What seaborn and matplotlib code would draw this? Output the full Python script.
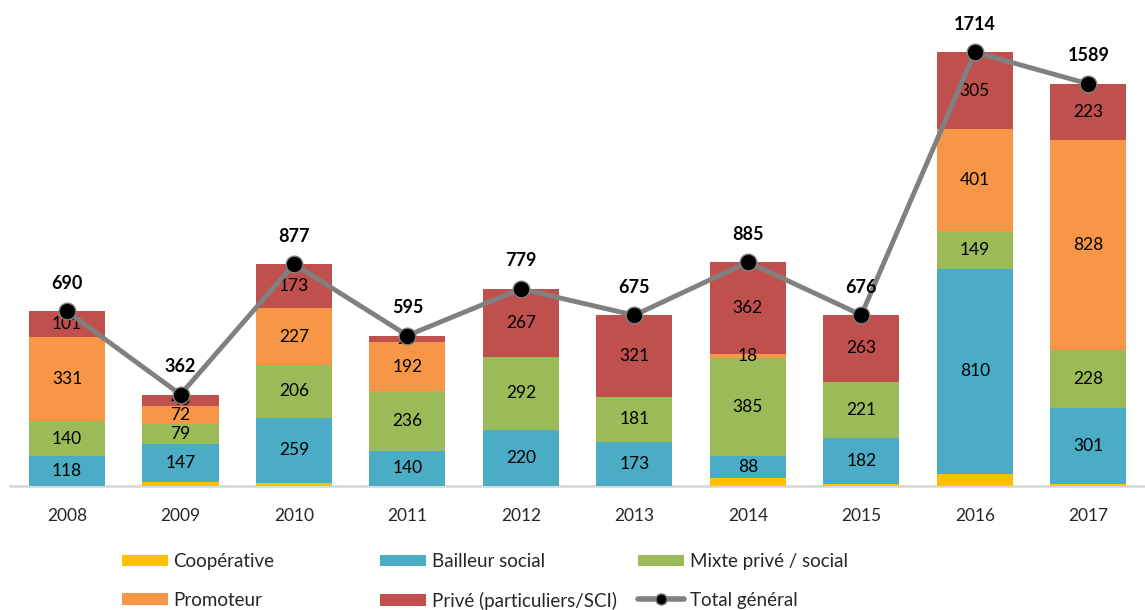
import numpy as np
import pandas as pd
import matplotlib
matplotlib.use("Agg")
import matplotlib.pyplot as plt
import seaborn as sns
from matplotlib.patches import Patch
from matplotlib.lines import Line2D

years = ["2008", "2009", "2010", "2011", "2012", "2013", "2014", "2015", "2016", "2017"]
cooperative = [0, 18, 12, 0, 0, 0, 32, 10, 49, 9]
bailleur = [118, 147, 259, 140, 220, 173, 88, 182, 810, 301]
mixte = [140, 79, 206, 236, 292, 181, 385, 221, 149, 228]
promoteur = [331, 72, 227, 192, 0, 0, 18, 0, 401, 828]
prive = [101, 46, 173, 27, 267, 321, 362, 263, 305, 223]
total = [690, 362, 877, 595, 779, 675, 885, 676, 1714, 1589]

series_names = ["Coopérative", "Bailleur social", "Mixte privé / social",
                "Promoteur", "Privé (particuliers/SCI)"]
series_vals = [cooperative, bailleur, mixte, promoteur, prive]
colors = ["#FFC000", "#4BACC6", "#9BBB59", "#F79646", "#C0504D"]
show_label = [False, True, True, True, True]

sns.set_theme(style="white")
plt.rcParams["font.family"] = ["Lato", "DejaVu Sans"]

fig = plt.figure(figsize=(11.45, 6.10), dpi=100)
ax = fig.add_axes([0.009, 0.203, 0.991, 0.797])

vals = np.array(series_vals, dtype=float)
cum = np.cumsum(vals, axis=0)

# draw cumulative bars from top layer down
for i in range(len(series_names) - 1, -1, -1):
    df = pd.DataFrame({"year": years, "value": cum[i]})
    sns.barplot(data=df, x="year", y="value", color=colors[i], width=0.67,
                saturation=1, ax=ax, zorder=2, linewidth=0)

# segment labels
for i in range(len(series_names)):
    if not show_label[i]:
        continue
    for j in range(len(years)):
        v = vals[i, j]
        if v <= 0:
            continue
        center = cum[i, j] - v / 2
        ax.text(j, center, f"{int(v)}", ha="center", va="center",
                fontsize=12.5, color="black", zorder=3)

# total line
sns.lineplot(x=np.arange(len(years)), y=total, ax=ax, color="#808080",
             linewidth=3.5, zorder=4, marker="o", markersize=12,
             markerfacecolor="black", markeredgecolor="#808080",
             markeredgewidth=1)
for j, t in enumerate(total):
    ax.annotate(f"{t}", (j, t), xytext=(0, 14), textcoords="offset points",
                ha="center", va="bottom", fontsize=13, fontweight="bold",
                color="black", zorder=5)

ax.set_xlim(-0.5, len(years) - 0.5)
ax.set_ylim(0, 1920)
ax.set_yticks([])
ax.set_xlabel("")
ax.set_ylabel("")
ax.tick_params(axis="x", labelsize=12.5, length=0, pad=16, colors="#262626")
for s in ["top", "right", "left"]:
    ax.spines[s].set_visible(False)
ax.spines["bottom"].set_color("#D9D9D9")
ax.spines["bottom"].set_linewidth(2)
ax.spines["bottom"].set_zorder(1)

# legend: three columns placed individually
handles = [Patch(facecolor=c, edgecolor="none") for c in colors]
line_handle = Line2D([0], [0], color="#808080", linewidth=4, marker="o",
                     markersize=8, markerfacecolor="black",
                     markeredgecolor="#808080")
cols = [
    ([handles[0], handles[3]], [series_names[0], series_names[3]], 122),
    ([handles[1], handles[4]], [series_names[1], series_names[4]], 380),
    ([handles[2], line_handle], [series_names[2], "Total général"], 638),
]
for hs, ls, xpx in cols:
    fig.legend(hs, ls, loc="upper left",
               bbox_to_anchor=(xpx / 1145, 1 - 553 / 610),
               frameon=False, fontsize=13.5, handlelength=2.45,
               handleheight=0.55, handletextpad=0.3, labelspacing=1.15,
               borderaxespad=0, borderpad=0, labelcolor="#262626")

fig.savefig("out.png", dpi=100)
